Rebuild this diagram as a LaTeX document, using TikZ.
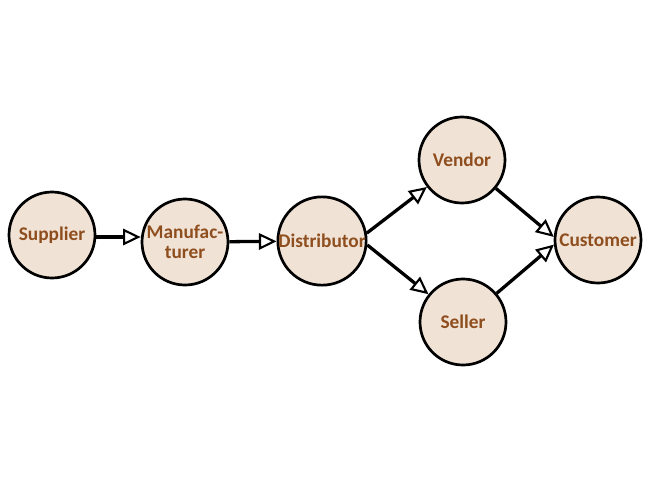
\documentclass[tikz,border=0pt]{standalone}
\usepackage{fontspec}
\setmainfont{Carlito}
\usepackage{tikz}
\usetikzlibrary{arrows.meta,positioning,calc}
\definecolor{nodefill}{HTML}{F1E2D6}
\definecolor{nodetext}{HTML}{8E4E1E}

\begin{document}
\begin{tikzpicture}[x=0.3mm,y=-0.3mm,
  stage/.style={circle,draw=black,line width=2.3pt,fill=nodefill,
                minimum size=25.8mm,inner sep=0pt,align=center,
                text=nodetext,font=\fontsize{16.5}{17.5}\selectfont\bfseries},
  flow/.style={line width=2.8pt,
               -{Triangle[open,length=15pt,width=14pt,line width=1.8pt]}}
]
  \useasboundingbox (0,0) rectangle (650,478);

  \node[stage] (sup)  at (52,235)  {Supplier};
  \node[stage] (man)  at (185,242) {Manufac-\\turer};
  \node[stage] (dis)  at (322,241) {Distributor};
  \node[stage] (ven)  at (462,160) {Vendor};
  \node[stage] (sel)  at (463,322) {Seller};
  \node[stage] (cus)  at (598,240) {Customer};

  \draw[flow] (sup.east |- 0,237) -- (man.west |- 0,237);
  \draw[flow] (man) -- (dis);
  \draw[flow] (dis.10) -- (ven);
  \draw[flow] (dis.-5) -- (sel);
  \draw[flow] (ven) -- (cus.176);
  \draw[flow] (sel) -- (cus.186);
\end{tikzpicture}
\end{document}
